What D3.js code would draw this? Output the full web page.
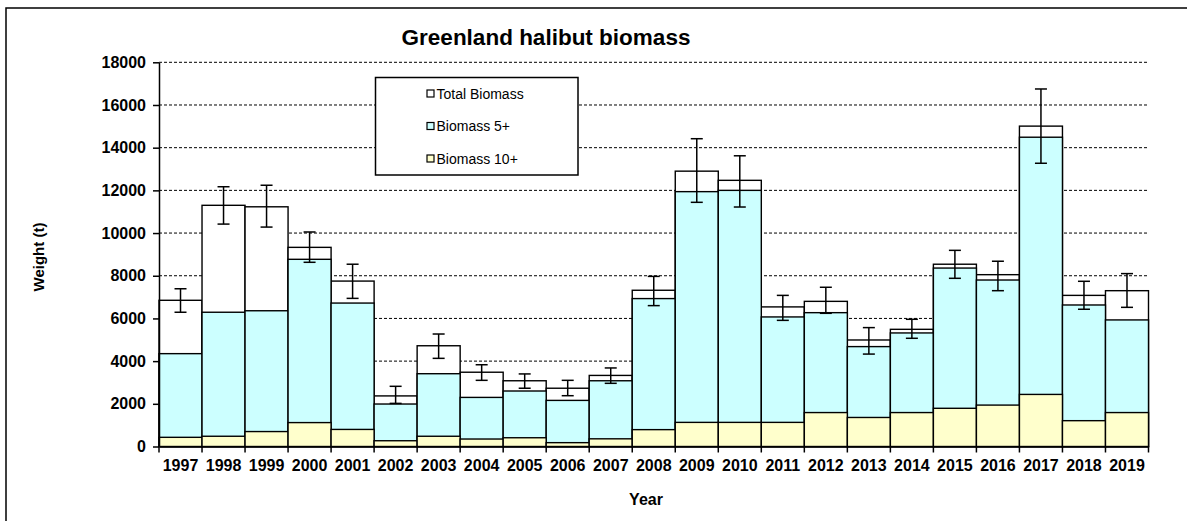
<!DOCTYPE html>
<html><head><meta charset="utf-8">
<script src="https://cdn.jsdelivr.net/npm/d3@7"></script>
<style>body{margin:0;background:#fff}svg{display:block}text{font-family:Arial,"Liberation Sans",sans-serif}</style>
</head><body><svg id="c" width="1187" height="521"></svg>
<script>
const years = ["1997","1998","1999","2000","2001","2002","2003","2004","2005","2006","2007","2008","2009","2010","2011","2012","2013","2014","2015","2016","2017","2018","2019"];
const totalBiomass = [6850,11300,11230,9330,7750,2370,4720,3480,3080,2730,3330,7320,12900,12470,6540,6800,4990,5490,8540,8050,15010,7080,7300];
const biomass5 = [4350,6290,6360,8770,6720,1990,3410,2300,2600,2160,3080,6930,11940,12000,6070,6270,4680,5320,8360,7800,14490,6630,5930];
const biomass10 = [430,480,700,1120,800,270,480,350,410,180,360,790,1130,1130,1130,1590,1360,1590,1790,1940,2440,1210,1590];
const errHigh = [7390,12170,12240,10050,8540,2820,5270,3830,3400,3100,3680,7970,14420,13620,7080,7460,5570,5960,9190,8680,16750,7740,8100];
const errLow = [6290,10420,10280,8630,6940,2020,4130,3100,2730,2380,2960,6600,11440,11220,5910,6240,4330,5070,7880,7300,13270,6430,6520];
const yTicks = [0,2000,4000,6000,8000,10000,12000,14000,16000,18000];
const seriesNames = ["Total Biomass","Biomass 5+","Biomass 10+"];
const seriesColors = ["#ffffff","#ccffff","#ffffcc"];

const svg = d3.select("#c");
// outer frame
svg.append("rect").attr("x",6).attr("y",8).attr("width",1300).attr("height",700)
  .attr("fill","none").attr("stroke","#000").attr("stroke-width",1.5);

const x = d3.scaleBand().domain(years).range([159,1148.5]).padding(0);
const y = d3.scaleLinear().domain([0,18000]).range([446.5,62.3]);

// grid
svg.append("g").selectAll("line").data(yTicks.slice(1)).join("line")
  .attr("x1",159).attr("x2",1149).attr("y1",d=>y(d)).attr("y2",d=>y(d))
  .attr("stroke","#000").attr("stroke-width",1).attr("stroke-dasharray","3,2");

// bars
const seriesData = [totalBiomass, biomass5, biomass10];
seriesData.forEach((arr,si)=>{
  svg.append("g").selectAll("rect").data(arr).join("rect")
    .attr("x",(d,i)=>x(years[i])).attr("width",x.bandwidth())
    .attr("y",d=>y(d)).attr("height",d=>y(0)-y(d))
    .attr("fill",seriesColors[si]).attr("stroke","#000").attr("stroke-width",1.4);
});

// error bars
const eg = svg.append("g").attr("stroke","#000").attr("stroke-width",1.5);
years.forEach((yr,i)=>{
  const cx = x(yr)+x.bandwidth()/2;
  eg.append("line").attr("x1",cx).attr("x2",cx).attr("y1",y(errHigh[i])).attr("y2",y(errLow[i]));
  eg.append("line").attr("x1",cx-6).attr("x2",cx+6).attr("y1",y(errHigh[i])).attr("y2",y(errHigh[i]));
  eg.append("line").attr("x1",cx-6).attr("x2",cx+6).attr("y1",y(errLow[i])).attr("y2",y(errLow[i]));
});

// y axis
const ya = svg.append("g").attr("transform","translate(159,0)")
  .call(d3.axisLeft(y).tickValues(yTicks).tickSize(6).tickSizeOuter(0).tickFormat(d3.format("d")));
ya.select(".domain").attr("stroke","#000").attr("stroke-width",1.5);
ya.selectAll(".tick line").attr("stroke","#000").attr("stroke-width",1.5);
ya.selectAll(".tick text").attr("font-size",16).attr("font-weight","bold").attr("fill","#000").attr("x",-13);

// x axis
const xa = svg.append("g").attr("transform",`translate(0,${y(0)})`)
  .call(d3.axisBottom(x).tickSize(0).tickSizeOuter(0));
xa.select(".domain").attr("stroke","#000").attr("stroke-width",1.5);
xa.selectAll(".tick text").attr("font-size",16).attr("font-weight","bold").attr("fill","#000").attr("y",13);
const bounds = years.map(d=>x(d)).concat([x.range()[1]]);
xa.selectAll(".bt").data(bounds).join("line").attr("class","bt")
  .attr("x1",d=>d).attr("x2",d=>d).attr("y1",0).attr("y2",6).attr("stroke","#000").attr("stroke-width",1.5);

// title & axis labels
svg.append("text").attr("x",546).attr("y",45).attr("text-anchor","middle")
  .attr("font-size",22.5).attr("font-weight","bold").text("Greenland halibut biomass");
svg.append("text").attr("x",646).attr("y",505).attr("text-anchor","middle")
  .attr("font-size",16).attr("font-weight","bold").text("Year");
svg.append("text").attr("transform","translate(44,257) rotate(-90)").attr("text-anchor","middle")
  .attr("font-size",15).attr("font-weight","bold").text("Weight (t)");

// legend
const lg = svg.append("g");
lg.append("rect").attr("x",375.5).attr("y",77.5).attr("width",202.5).attr("height",97.5)
  .attr("fill","#fff").attr("stroke","#000").attr("stroke-width",1.5);
const rowsY = [93.5,126,158.5];
seriesNames.forEach((n,i)=>{
  lg.append("rect").attr("x",427).attr("y",rowsY[i]-3.5).attr("width",7).attr("height",7)
    .attr("fill",seriesColors[i]).attr("stroke","#000").attr("stroke-width",1.2);
  lg.append("text").attr("x",436.5).attr("y",rowsY[i]+5).attr("font-size",14).text(n);
});
</script></body></html>
